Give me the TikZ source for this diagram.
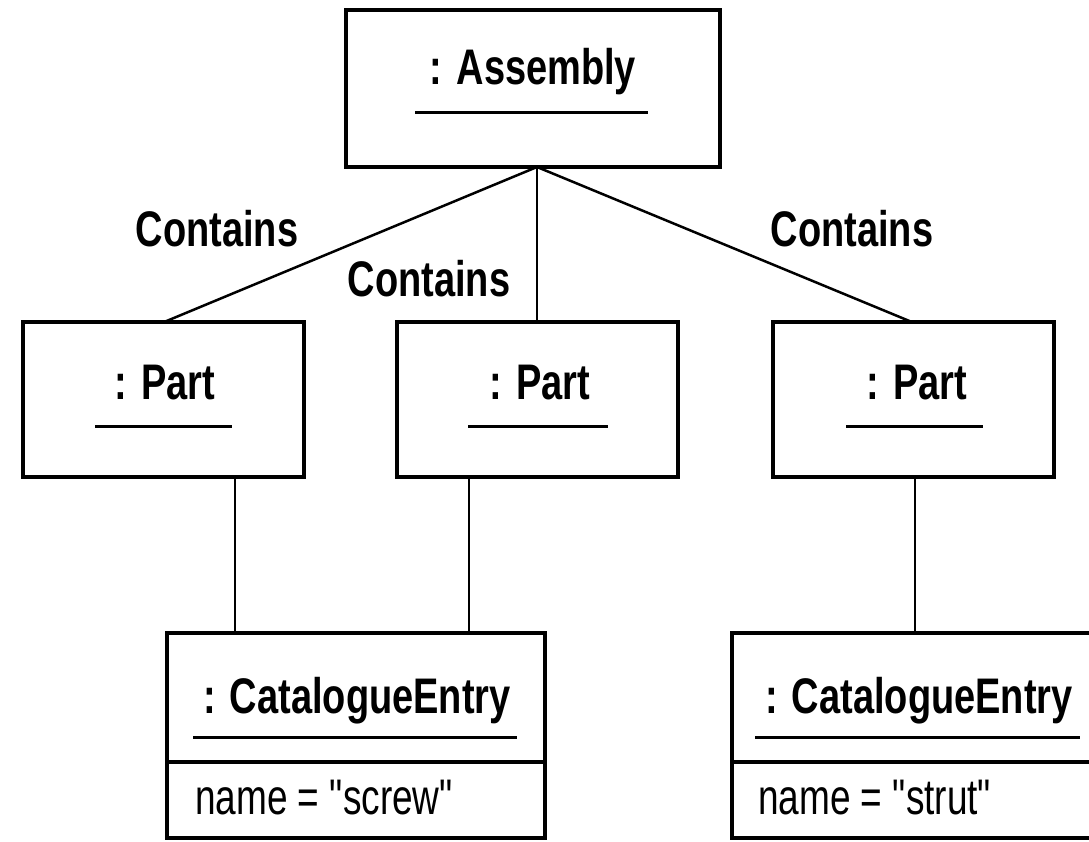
\documentclass[tikz,border=0pt]{standalone}
\usepackage{fontspec}
\newfontfamily\diagfont[FakeStretch=0.76]{Liberation Sans}
\newfontfamily\attrfont[FakeStretch=0.74]{Liberation Sans}
\begin{document}
\begin{tikzpicture}[x=1pt,y=1pt,
  objbox/.style 2 args={draw, line width=4pt, inner sep=0pt, outer sep=0pt,
    minimum width=#1, minimum height=#2},
  objname/.style={font=\diagfont\bfseries\fontsize{50}{60}\selectfont,
    anchor=base, inner sep=0pt},
  relname/.style={font=\diagfont\bfseries\fontsize{50}{60}\selectfont,
    anchor=base, inner sep=0pt},
  attrtext/.style={font=\attrfont\fontsize{50}{60}\selectfont,
    anchor=base west, inner sep=0pt},
  uline/.style={line width=3pt},
  link/.style={line width=2.5pt}]
\useasboundingbox (0,0) rectangle (1089,841);
\clip (0,0) rectangle (1089,841);

% object boxes
\node[objbox={374}{157}] (asm) at (533,752.5) {};
\node[objbox={281}{155}] (p1) at (163,441) {};
\node[objbox={281}{155}] (p2) at (537,441) {};
\node[objbox={281}{155}] (p3) at (913,441) {};
\node[objbox={378}{205}] (ce1) at (356,105.5) {};
\node[objbox={378}{205}] (ce2) at (921,105.5) {};

% object names, underlined
\node[objname] (asmT) at (533,756) {: Assembly};
\draw[uline] ([shift={(-118,-28)}]asmT.base) -- ([shift={(115,-28)}]asmT.base);
\node[objname] (p1T) at (165,441) {: Part};
\draw[uline] ([shift={(-70,-27)}]p1T.base) -- ([shift={(67,-27)}]p1T.base);
\node[objname] (p2T) at (540,441) {: Part};
\draw[uline] ([shift={(-72,-27)}]p2T.base) -- ([shift={(68,-27)}]p2T.base);
\node[objname] (p3T) at (917,441) {: Part};
\draw[uline] ([shift={(-71,-27)}]p3T.base) -- ([shift={(66,-27)}]p3T.base);
\node[objname] (ce1T) at (357,128) {: CatalogueEntry};
\draw[uline] ([shift={(-164,-24)}]ce1T.base) -- ([shift={(160,-24)}]ce1T.base);
\node[objname] (ce2T) at (919,128) {: CatalogueEntry};
\draw[uline] ([shift={(-164,-24)}]ce2T.base) -- ([shift={(161,-24)}]ce2T.base);

% attribute compartments
\draw[line width=4pt] ([yshift=-129]ce1.north west) -- ([yshift=-129]ce1.north east);
\draw[line width=4pt] ([yshift=-129]ce2.north west) -- ([yshift=-129]ce2.north east);
\node[attrtext] (ce1A) at (195,27) {name = "screw"};
\node[attrtext] (ce2A) at (758,27) {name = "strut"};

% links
\draw[link] (asm.south) ++(4,0) coordinate (hub);
\draw[link] (hub) -- (p1.north);
\draw[link] (asm.south -| p2.north) -- (p2.north);
\draw[link] (hub) -- (p3.north);
\draw[link] ([xshift=72]p1.south) -- ([xshift=72]p1.south |- ce1.north);
\draw[link] ([xshift=-68]p2.south) -- ([xshift=-68]p2.south |- ce1.north);
\draw[link] ([xshift=2]p3.south) -- ([xshift=2]p3.south |- ce2.north);

% link labels
\node[relname] (c1) at (217,594) {Contains};
\node[relname] (c2) at (429,544) {Contains};
\node[relname] (c3) at (852,594) {Contains};
\end{tikzpicture}
\end{document}
